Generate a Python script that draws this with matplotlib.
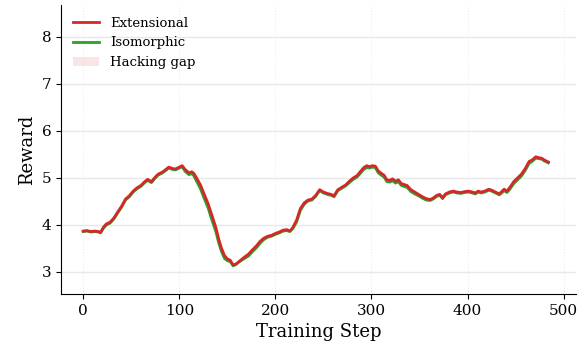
import matplotlib
matplotlib.use("Agg")
import matplotlib.pyplot as plt

# training steps and rewards
steps = [0, 4, 8, 12, 16, 18, 21, 24, 28, 32, 36, 40, 44, 48, 52, 56, 60, 64, 67, 71,
         75, 78, 82, 86, 89, 93, 96, 100, 103, 106, 110, 113, 115, 118, 122, 126, 130, 134, 138, 141,
         144, 147, 150, 153, 156, 159, 162, 165, 168, 172, 176, 180, 184, 188, 192, 196, 200, 204, 208, 212,
         215, 218, 222, 226, 230, 234, 238, 242, 246, 250, 254, 258, 261, 265, 269, 273, 277, 281, 285, 289,
         292, 295, 298, 301, 304, 307, 310, 313, 316, 319, 322, 325, 328, 331, 334, 337, 341, 345, 349, 353,
         357, 361, 364, 368, 371, 374, 377, 381, 385, 389, 393, 397, 401, 405, 408, 411, 414, 418, 422, 425,
         429, 433, 436, 438, 441, 444, 448, 452, 456, 460, 464, 467, 471, 474, 477, 480, 484]

extensional = [3.87, 3.88, 3.86, 3.87, 3.86, 3.84, 3.95, 4.02, 4.06, 4.15, 4.28, 4.40, 4.55, 4.62, 4.72, 4.79, 4.84, 4.92, 4.97, 4.92,
               5.02, 5.08, 5.12, 5.18, 5.23, 5.20, 5.19, 5.23, 5.26, 5.18, 5.11, 5.13, 5.10, 5.00, 4.85, 4.65, 4.45, 4.20, 3.95, 3.70,
               3.50, 3.35, 3.28, 3.25, 3.15, 3.17, 3.22, 3.27, 3.32, 3.38, 3.47, 3.55, 3.65, 3.72, 3.76, 3.78, 3.82, 3.85, 3.89, 3.90,
               3.87, 3.94, 4.10, 4.35, 4.47, 4.53, 4.55, 4.63, 4.75, 4.70, 4.67, 4.65, 4.62, 4.75, 4.80, 4.85, 4.93, 5.00, 5.05, 5.15,
               5.22, 5.26, 5.24, 5.26, 5.25, 5.15, 5.10, 5.06, 4.96, 4.95, 4.98, 4.93, 4.96, 4.88, 4.86, 4.84, 4.75, 4.70, 4.65, 4.60,
               4.56, 4.54, 4.57, 4.63, 4.65, 4.58, 4.66, 4.70, 4.72, 4.70, 4.69, 4.71, 4.72, 4.70, 4.68, 4.72, 4.70, 4.72, 4.76, 4.74,
               4.70, 4.66, 4.72, 4.76, 4.72, 4.80, 4.92, 5.00, 5.08, 5.20, 5.35, 5.38, 5.45, 5.43, 5.42, 5.38, 5.34]

isomorphic = [3.86, 3.87, 3.85, 3.86, 3.85, 3.83, 3.93, 4.00, 4.04, 4.13, 4.26, 4.38, 4.53, 4.60, 4.70, 4.77, 4.82, 4.90, 4.95, 4.90,
              5.00, 5.06, 5.10, 5.16, 5.21, 5.18, 5.17, 5.21, 5.24, 5.14, 5.07, 5.09, 5.05, 4.93, 4.77, 4.56, 4.36, 4.10, 3.86, 3.62,
              3.43, 3.29, 3.24, 3.22, 3.13, 3.16, 3.21, 3.25, 3.29, 3.34, 3.43, 3.51, 3.61, 3.69, 3.74, 3.76, 3.80, 3.83, 3.87, 3.88,
              3.86, 3.92, 4.06, 4.31, 4.44, 4.51, 4.53, 4.61, 4.73, 4.68, 4.65, 4.63, 4.60, 4.73, 4.78, 4.83, 4.90, 4.97, 5.02, 5.11,
              5.18, 5.22, 5.21, 5.23, 5.22, 5.11, 5.06, 5.02, 4.92, 4.91, 4.94, 4.89, 4.92, 4.84, 4.82, 4.80, 4.71, 4.66, 4.62, 4.57,
              4.53, 4.52, 4.55, 4.61, 4.63, 4.56, 4.64, 4.68, 4.70, 4.68, 4.67, 4.69, 4.70, 4.68, 4.66, 4.70, 4.68, 4.70, 4.74, 4.72,
              4.68, 4.64, 4.69, 4.73, 4.69, 4.76, 4.88, 4.96, 5.04, 5.16, 5.31, 5.35, 5.42, 5.41, 5.40, 5.36, 5.32]

plt.rcParams['font.family'] = 'DejaVu Serif'

fig = plt.figure(figsize=(5.82, 3.46), dpi=100)
ax = fig.add_axes([0.105, 0.150, 0.885, 0.836])

ax.fill_between(steps, isomorphic, extensional, color='#d62728', alpha=0.12, lw=0, label='Hacking gap')
ax.plot(steps, isomorphic, color='#2ca02c', lw=2, label='Isomorphic')
ax.plot(steps, extensional, color='#d62728', lw=2, label='Extensional')

ax.set_xlim(-23, 513)
ax.set_ylim(2.53, 8.68)
ax.set_yticks([3, 4, 5, 6, 7, 8])
ax.set_xticks([0, 100, 200, 300, 400, 500])
ax.tick_params(labelsize=11)
ax.set_xlabel('Training Step', fontsize=13)
ax.set_ylabel('Reward', fontsize=13)

ax.yaxis.grid(True, color='#e8e8e8', lw=1)
ax.xaxis.grid(True, color='#eeeeee', lw=0.8, ls=':')
ax.set_axisbelow(True)
for s in ['top', 'right']:
    ax.spines[s].set_visible(False)

handles, labels = ax.get_legend_handles_labels()
order = [2, 1, 0]
ax.legend([handles[i] for i in order], [labels[i] for i in order],
          loc='upper left', frameon=False, fontsize=9.5)

fig.savefig('out.png', dpi=100)
